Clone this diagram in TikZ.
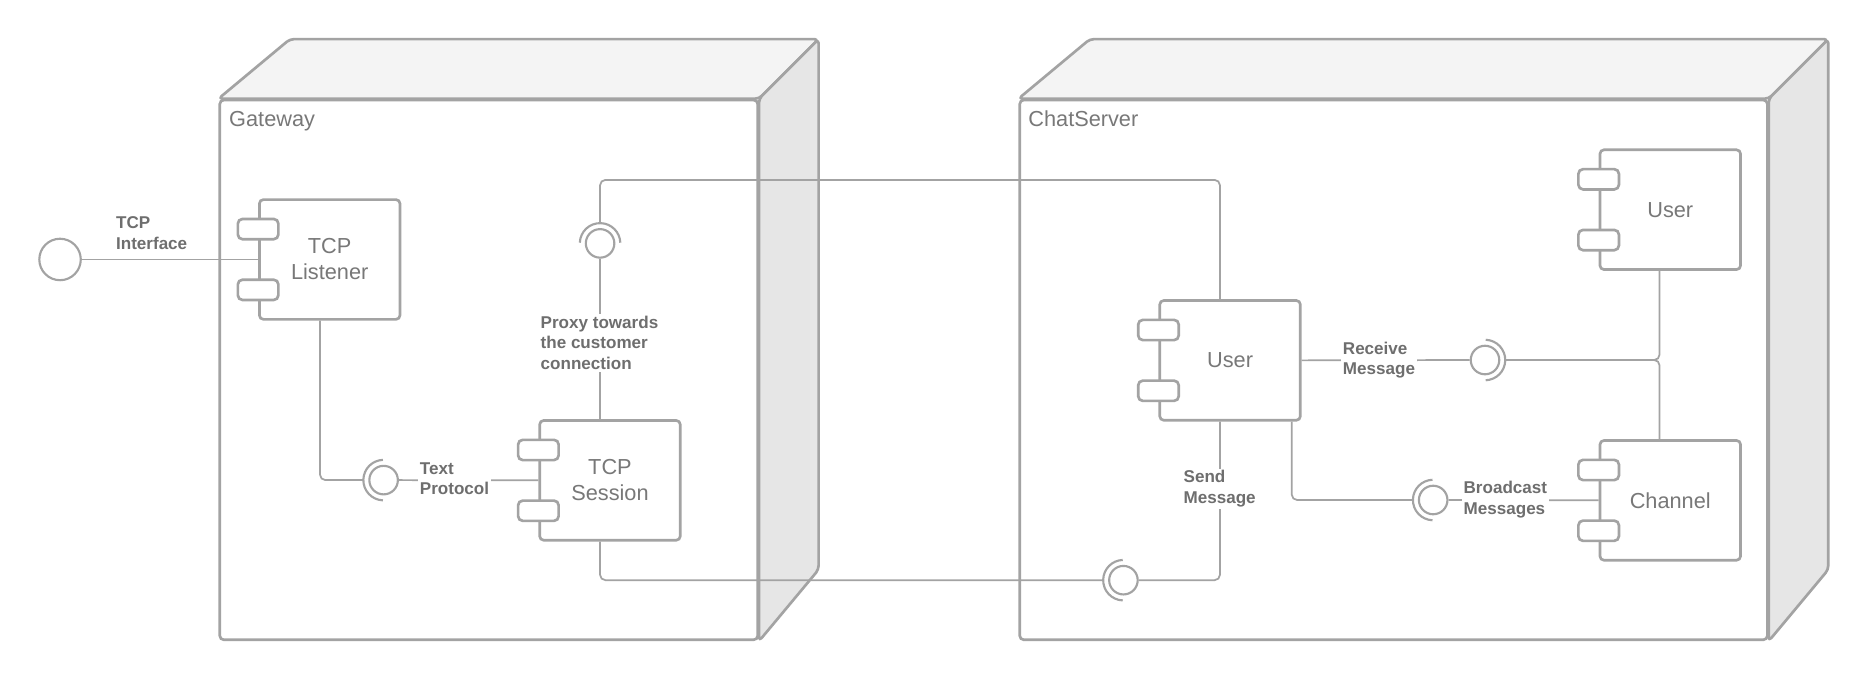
\documentclass[tikz,border=0pt]{standalone}
\usepackage{fontspec}
\setmainfont{Liberation Sans}
\usetikzlibrary{calc}
\definecolor{lc}{HTML}{A3A3A3}
\definecolor{tc}{HTML}{787878}
\definecolor{lab}{HTML}{6E6E6E}
\definecolor{topf}{HTML}{F4F4F4}
\definecolor{sidef}{HTML}{E6E6E6}
\begin{document}
\begin{tikzpicture}[x=0.8935pt,y=-0.8935pt,
  boxline/.style={draw=lc,line width=2pt,line join=round,rounded corners=3pt},
  frontface/.style={rectangle,draw=lc,line width=2pt,fill=white,rounded corners=3pt,inner sep=0pt},
  comp/.style={rectangle,draw=lc,line width=2pt,fill=white,rounded corners=3pt,minimum width=105.4pt,minimum height=89.8pt,font=\fontsize{16.3}{19.5}\selectfont,text=tc,align=center,inner sep=0pt},
  port/.style={rectangle,draw=lc,line width=2pt,fill=white,rounded corners=3.5pt,minimum width=30.4pt,minimum height=15.2pt,inner sep=0pt},
  conn/.style={draw=lc,line width=1.3pt,rounded corners=4pt},
  lolli/.style={circle,draw=lc,line width=1.6pt,fill=white,minimum size=21.4pt,inner sep=0pt},
  sock/.style={draw=lc,line width=1.6pt},
  lbl/.style={font=\fontsize{12.8}{15.7}\selectfont\bfseries,text=lab,align=left,fill=white,inner sep=1.2pt},
  titletext/.style={font=\fontsize{16.3}{19.5}\selectfont,text=tc,anchor=base west,inner sep=0pt}]
\useasboundingbox (0,0) rectangle (1568,570.8);

% ---- Gateway node
\node[frontface,minimum width=403.4pt,minimum height=404.8pt] (gw) at (410.25,310.5) {};
\draw[boxline,fill=topf] (gw.north west) -- ++(60,-50) -- ($(gw.north east)+(50,-50)$) -- (gw.north east) -- cycle;
\draw[boxline,fill=sidef] (gw.north east) -- ++(50,-50) -- ($(gw.south east)+(50,-60)$) -- (gw.south east) -- cycle;
\node[titletext] (gwt) at (192.2,105.8) {Gateway};

% ---- ChatServer node
\node[frontface,minimum width=560.7pt,minimum height=404.8pt] (cs) at (1169.75,310.5) {};
\draw[boxline,fill=topf] (cs.north west) -- ++(60,-50) -- ($(cs.north east)+(50,-50)$) -- (cs.north east) -- cycle;
\draw[boxline,fill=sidef] (cs.north east) -- ++(50,-50) -- ($(cs.south east)+(50,-60)$) -- (cs.south east) -- cycle;
\node[titletext] (cst) at (863,105.8) {ChatServer};

% ---- interfaces
\node[lolli,minimum size=31.1pt] (tcpi) at (50.4,217.8) {};
\node[lolli] (proxy) at (503.7,204.3) {};
\node[lolli] (tp) at (322,403) {};
\node[lolli] (send) at (943,487) {};
\node[lolli] (recv) at (1246.5,302.2) {};
\node[lolli] (bcast) at (1203,419.7) {};

\coordinate (proxyS) at ($(proxy)+(0,-17)$);
\coordinate (tpS) at ($(tp)+(-17,0)$);
\coordinate (sendS) at ($(send)+(-17,0)$);
\coordinate (recvS) at ($(recv)+(17,0)$);
\coordinate (bcastS) at ($(bcast)+(-17,0)$);

\draw[sock] ($(proxy)+(182:17)$) arc[start angle=182,end angle=358,radius=17];
\draw[sock] ($(tp)+(92:17)$) arc[start angle=92,end angle=268,radius=17];
\draw[sock] ($(send)+(92:17)$) arc[start angle=92,end angle=268,radius=17];
\draw[sock] ($(recv)+(-88:17)$) arc[start angle=-88,end angle=88,radius=17];
\draw[sock] ($(bcast)+(92:17)$) arc[start angle=92,end angle=268,radius=17];

% ---- components
\node[comp] (listener) at (276.75,217.8) {TCP\\Listener};
\node[comp] (session) at (512,403.2) {TCP\\Session};
\node[comp] (user1) at (1032.5,302.5) {User};
\node[comp] (user2) at (1402,176) {User};
\node[comp] (channel) at (1402,420) {Channel};

% ---- connectors (drawn before ports so ports sit on top)
\draw[conn] (tcpi.east) -- (tcpi.east -| listener.west);
\draw[conn] ($(listener.south)+(-8.1,0)$) |- (tpS);
\draw[conn] (tp.east) -- (session.west);
\draw[conn] ($(session.north)+(-8.3,0)$) -- (proxy.south);
\draw[conn] (proxyS) -- ++(0,-36.3) -| ($(user1.north)+(-8.5,0)$);
\draw[conn] ($(session.south)+(-8.3,0)$) |- (sendS);
\draw[conn] (send.east) -| ($(user1.south)+(-8.5,0)$);
\draw[conn] (user1.east) -- (recv.west);
\draw[conn] (recvS) -| ($(user2.south)+(-9,0)$);
\draw[conn] (recvS) -| ($(channel.north)+(-9,0)$);
\draw[conn] ($(user1.south)+(51.8,0)$) |- (bcastS);
\draw[conn] (bcast.east) -- (channel.west);

% ---- ports
\foreach \c in {listener,session,user1,user2,channel}{
  \node[port] (\c-p1) at ($(\c.west)+(0,-25.5)$) {};
  \node[port] (\c-p2) at ($(\c.west)+(0,25.5)$) {};
}

% ---- labels
\node[lbl,fill=none] (ltcpi) at (127.3,195.5) {TCP\\Interface};
\node[lbl] (ltp) at (381.5,401.8) {Text\\Protocol};
\node[lbl] (lproxy) at (503.2,287.8) {Proxy towards\\the customer\\connection};
\node[lbl] (lsend) at (1023.8,410.3) {Send\\Message};
\node[lbl] (lrecv) at (1157.5,302.3) {Receive\\Message};
\node[lbl] (lbcast) at (1263.6,419) {Broadcast\\Messages};
\end{tikzpicture}
\end{document}
